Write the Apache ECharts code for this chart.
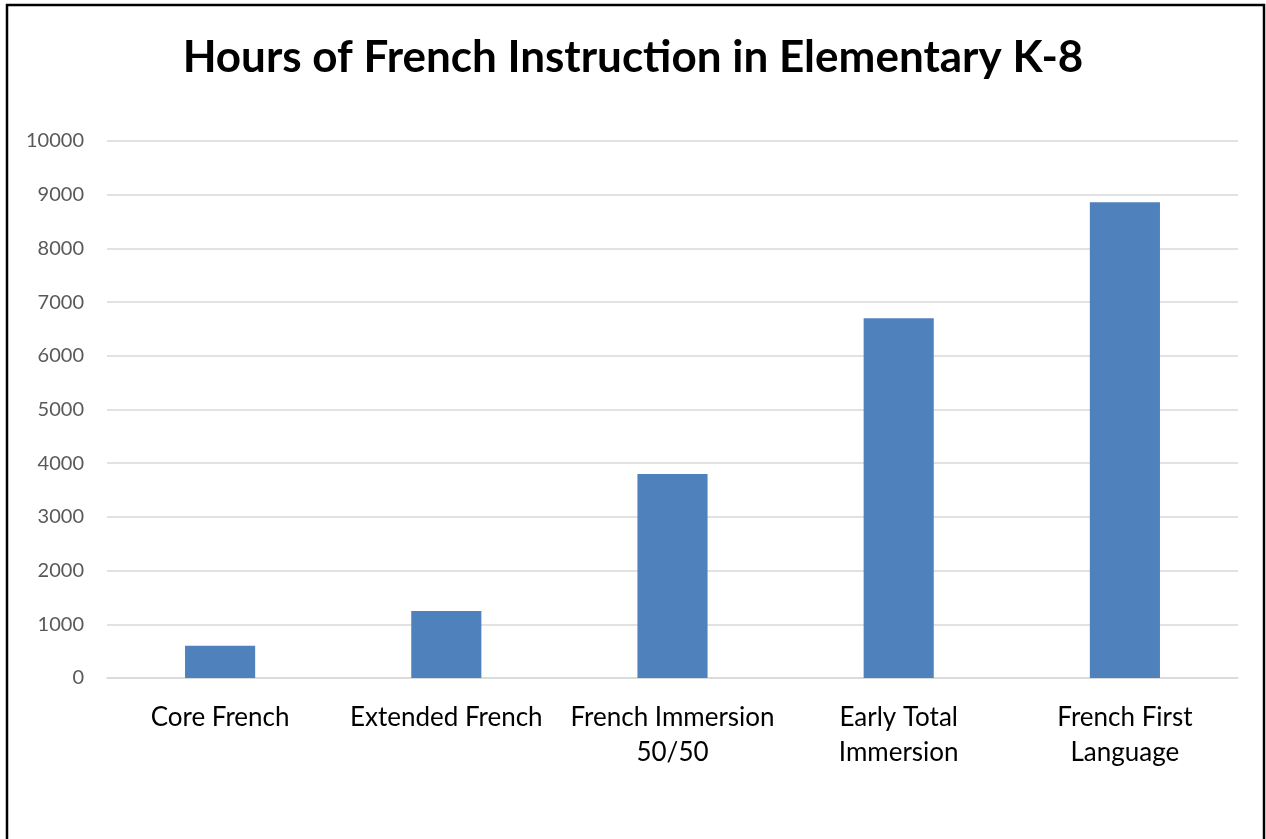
<!DOCTYPE html>
<html>
<head>
<meta charset="utf-8">
<script src="https://cdn.jsdelivr.net/npm/echarts@6/dist/echarts.min.js"></script>
<style>
html,body{margin:0;padding:0;background:#fff;}
#chart{width:1266px;height:839px;}
</style>
</head>
<body>
<div id="chart"></div>
<script>
const titleText = 'Hours of French Instruction in Elementary K-8';
const categories = ['Core French', 'Extended French', 'French Immersion\n50/50', 'Early Total\nImmersion', 'French First\nLanguage'];
const hours = [600, 1250, 3800, 6700, 8860];
const yTicks = [0, 1000, 2000, 3000, 4000, 5000, 6000, 7000, 8000, 9000, 10000];

const chart = echarts.init(document.getElementById('chart'));
chart.setOption({
  animation: false,
  backgroundColor: '#ffffff',
  title: {
    text: titleText,
    left: 'center',
    top: 31,
    textStyle: { fontFamily: 'Lato', fontWeight: 'bold', fontSize: 44, color: '#000000' }
  },
  graphic: [{
    type: 'rect',
    shape: { x: 7, y: 5, width: 1257, height: 840 },
    style: { fill: 'none', stroke: '#000000', lineWidth: 2.5 },
    silent: true
  }],
  grid: { left: 107, right: 28, top: 141, bottom: 161 },
  xAxis: {
    type: 'category',
    data: categories,
    axisLine: { show: true, lineStyle: { color: '#d9d9d9', width: 1.5 } },
    axisTick: { show: false },
    axisLabel: {
      interval: 0,
      margin: 22,
      fontFamily: 'Lato',
      fontSize: 26,
      lineHeight: 35,
      color: '#000000'
    }
  },
  yAxis: {
    type: 'value',
    min: yTicks[0],
    max: yTicks[yTicks.length - 1],
    interval: 1000,
    axisLine: { show: false },
    axisTick: { show: false },
    splitLine: { lineStyle: { color: '#d9d9d9', width: 1.5 } },
    axisLabel: {
      margin: 23,
      fontFamily: 'Lato',
      fontSize: 20,
      color: '#595959',
      formatter: function (v) { return String(v); }
    }
  },
  series: [{
    type: 'bar',
    data: hours,
    barWidth: '31%',
    itemStyle: { color: '#4f81bd' }
  }]
});
</script>
</body>
</html>
